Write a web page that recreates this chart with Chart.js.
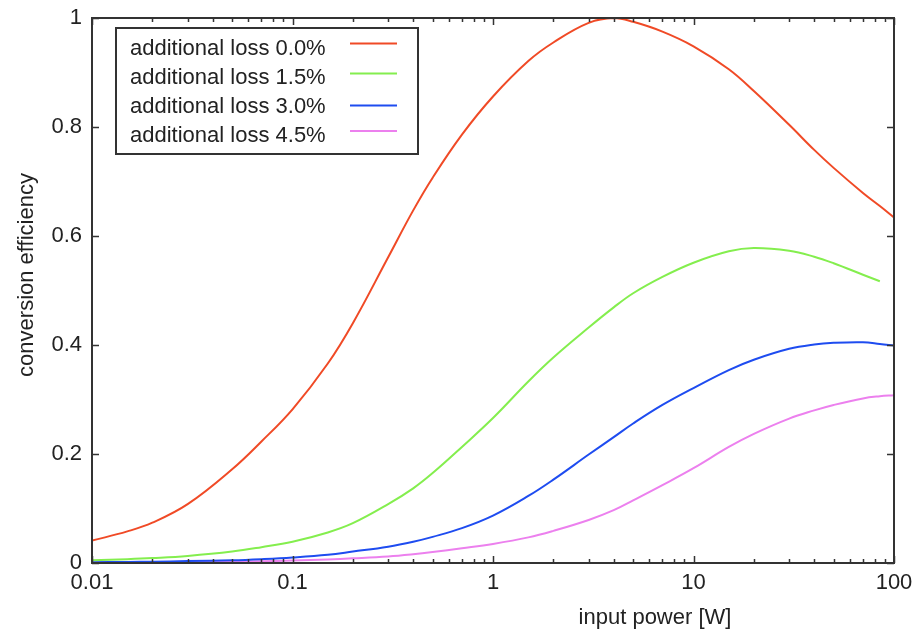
<!DOCTYPE html>
<html>
<head>
<meta charset="utf-8">
<script src="https://cdn.jsdelivr.net/npm/chart.js@4"></script>
<style>
  html, body { margin: 0; padding: 0; background: #fff; }
  #wrap { width: 918px; height: 630px; }
</style>
</head>
<body>
<div id="wrap"><canvas id="c" width="918" height="630"></canvas></div>
<script>
// ---- data ----
const inputPower = [0.01, 0.015, 0.02, 0.03, 0.05, 0.07, 0.1, 0.15, 0.2, 0.3, 0.4, 0.5, 0.7, 1, 1.5, 2, 3, 4, 5, 7, 10, 15, 20, 30, 40, 50, 70, 85, 100];
const loss00 = [0.041, 0.058, 0.074, 0.108, 0.172, 0.223, 0.282, 0.366, 0.44, 0.561, 0.647, 0.707, 0.786, 0.856, 0.921, 0.955, 0.991, 1.0, 0.993, 0.975, 0.948, 0.906, 0.866, 0.804, 0.758, 0.725, 0.679, 0.655, 0.634];
const loss15 = [0.005, 0.007, 0.009, 0.013, 0.021, 0.029, 0.039, 0.056, 0.073, 0.108, 0.137, 0.165, 0.213, 0.266, 0.333, 0.377, 0.432, 0.469, 0.495, 0.525, 0.551, 0.572, 0.578, 0.573, 0.562, 0.55, 0.529, 0.517, null];
const loss30 = [0.0015, 0.002, 0.0025, 0.0035, 0.005, 0.007, 0.010, 0.015, 0.021, 0.030, 0.039, 0.048, 0.064, 0.087, 0.123, 0.153, 0.199, 0.231, 0.256, 0.29, 0.321, 0.354, 0.373, 0.393, 0.401, 0.404, 0.405, 0.402, 0.399];
const loss45 = [0.0008, 0.001, 0.0012, 0.0016, 0.0025, 0.0033, 0.0045, 0.0065, 0.0085, 0.012, 0.016, 0.020, 0.027, 0.035, 0.047, 0.059, 0.079, 0.097, 0.115, 0.143, 0.174, 0.213, 0.237, 0.265, 0.28, 0.29, 0.302, 0.306, 0.308];
const seriesLabels = ['additional loss 0.0%', 'additional loss 1.5%', 'additional loss 3.0%', 'additional loss 4.5%'];
const xTicks = [0.01, 0.1, 1, 10, 100];
const xTickLabels = ['0.01', '0.1', '1', '10', '100'];
const yTicks = [0, 0.2, 0.4, 0.6, 0.8, 1];
const yTickLabels = ['0', '0.2', '0.4', '0.6', '0.8', '1'];
const xTitle = 'input power [W]';
const yTitle = 'conversion efficiency';

const colors = ['#f04a26', '#84ee4e', '#1e4cf0', '#ec80ee'];
const FONT = '"Liberation Sans", Arial, Helvetica, sans-serif';
const TEXT = '#222';
const FRAME = '#333';
const AREA = { left: 92, top: 18, right: 894, bottom: 563 };

const seriesValues = [loss00, loss15, loss30, loss45];
const datasets = seriesValues.map((vals, i) => ({
  label: seriesLabels[i],
  data: inputPower.map((p, j) => ({ x: p, y: vals[j] })),
  borderColor: colors[i],
  backgroundColor: colors[i],
  borderWidth: 2,
  pointRadius: 0,
  tension: 0.4,
  fill: false,
  spanGaps: false
}));

const framePlugin = {
  id: 'frame',
  afterDatasetsDraw(chart) {
    const ctx = chart.ctx;
    const a = chart.chartArea;
    const xs = chart.scales.x, ys = chart.scales.y;
    ctx.save();
    ctx.strokeStyle = FRAME;
    ctx.lineWidth = 2;
    ctx.strokeRect(a.left, a.top, a.right - a.left, a.bottom - a.top);
    ctx.lineWidth = 1.5;
    ctx.beginPath();
    const major = 7, minor = 4;
    for (const v of xTicks) {
      const px = Math.round(xs.getPixelForValue(v)) + 0.5;
      ctx.moveTo(px, a.bottom); ctx.lineTo(px, a.bottom - major);
      ctx.moveTo(px, a.top); ctx.lineTo(px, a.top + major);
    }
    for (let d = 0; d < xTicks.length - 1; d++) {
      for (let k = 2; k <= 9; k++) {
        const px = Math.round(xs.getPixelForValue(xTicks[d] * k)) + 0.5;
        ctx.moveTo(px, a.bottom); ctx.lineTo(px, a.bottom - minor);
        ctx.moveTo(px, a.top); ctx.lineTo(px, a.top + minor);
      }
    }
    for (const v of yTicks) {
      const py = Math.round(ys.getPixelForValue(v)) + 0.5;
      ctx.moveTo(a.left, py); ctx.lineTo(a.left + major, py);
      ctx.moveTo(a.right, py); ctx.lineTo(a.right - major, py);
    }
    ctx.stroke();

    // legend box
    ctx.lineWidth = 2;
    ctx.strokeStyle = FRAME;
    ctx.fillStyle = '#fff';
    ctx.fillRect(116, 28, 302, 126);
    ctx.strokeRect(116, 28, 302, 126);
    const lineY = [43.5, 73.5, 105.5, 131];
    const textY = [55, 84, 112.5, 141.5];
    ctx.font = '22px ' + FONT;
    ctx.textAlign = 'left';
    ctx.textBaseline = 'alphabetic';
    chart.data.datasets.forEach((ds, i) => {
      ctx.fillStyle = TEXT;
      ctx.fillText(ds.label, 130, textY[i]);
      ctx.strokeStyle = ds.borderColor;
      ctx.lineWidth = 2;
      ctx.beginPath();
      ctx.moveTo(350, lineY[i]); ctx.lineTo(397, lineY[i]);
      ctx.stroke();
    });

    // axis titles
    ctx.fillStyle = TEXT;
    ctx.font = '22px ' + FONT;
    ctx.textAlign = 'center';
    ctx.fillText(xTitle, 655, 624);
    ctx.save();
    ctx.translate(33, 275);
    ctx.rotate(-Math.PI / 2);
    ctx.fillText(yTitle, 0, 0);
    ctx.restore();
    ctx.restore();
  }
};

function noPad(s) { s.paddingTop = 0; s.paddingBottom = 0; s.paddingLeft = 0; s.paddingRight = 0; }

const chart = new Chart(document.getElementById('c'), {
  type: 'line',
  data: { datasets },
  options: {
    responsive: false,
    animation: false,
    events: [],
    layout: { padding: { left: 0, right: 918 - AREA.right, top: AREA.top, bottom: 0 } },
    plugins: { legend: { display: false }, tooltip: { enabled: false }, title: { display: false } },
    scales: {
      x: {
        type: 'logarithmic',
        min: 0.01, max: 100,
        grid: { display: false, drawTicks: false },
        border: { display: false },
        afterBuildTicks: s => { s.ticks = xTicks.map(v => ({ value: v })); },
        afterFit: s => { s.height = 630 - AREA.bottom; noPad(s); },
        ticks: {
          autoSkip: false, maxRotation: 0, padding: 7,
          color: TEXT, font: { family: FONT, size: 22 },
          callback: (v) => { const i = xTicks.indexOf(v); return i >= 0 ? xTickLabels[i] : ''; }
        }
      },
      y: {
        min: 0, max: 1,
        grid: { display: false, drawTicks: false },
        border: { display: false },
        afterBuildTicks: s => { s.ticks = yTicks.map(v => ({ value: v })); },
        afterFit: s => { s.width = AREA.left; noPad(s); },
        ticks: {
          autoSkip: false, padding: 10,
          color: TEXT, font: { family: FONT, size: 22 },
          callback: (v) => { const i = yTicks.indexOf(v); return i >= 0 ? yTickLabels[i] : ''; }
        }
      }
    }
  },
  plugins: [framePlugin]
});

// keep the plot area where the reference has it
for (let k = 0; k < 2; k++) {
  const a = chart.chartArea;
  const p = chart.options.layout.padding;
  const dt = AREA.top - a.top, dr = a.right - AREA.right;
  if (Math.abs(dt) < 0.5 && Math.abs(dr) < 0.5) break;
  p.top += dt; p.right += dr;
  chart.update();
}
</script>
</body>
</html>
